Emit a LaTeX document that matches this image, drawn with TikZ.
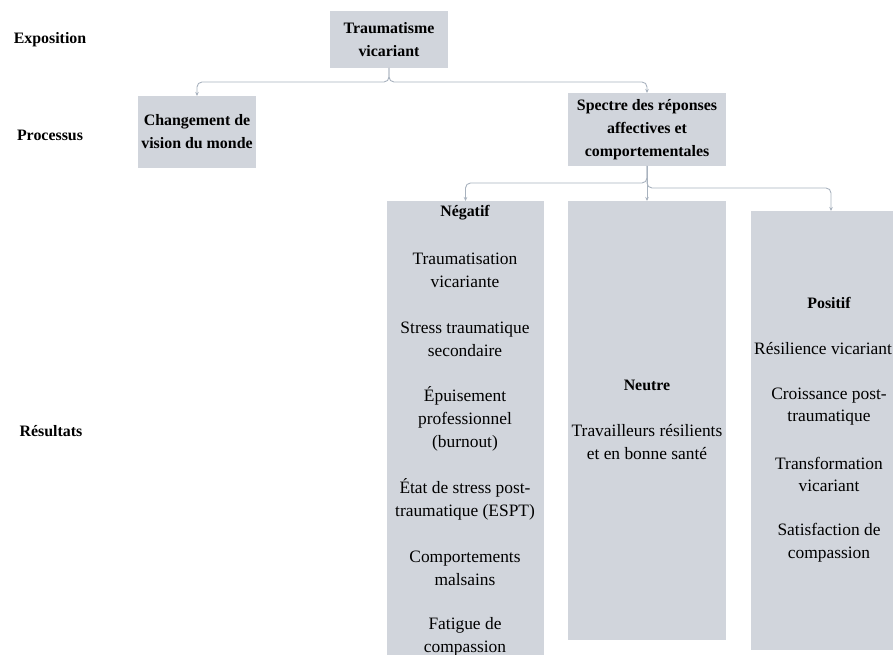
\documentclass[tikz,border=0pt]{standalone}
\usepackage{fontspec}
\setmainfont{Liberation Serif}
\usetikzlibrary{arrows.meta}
\definecolor{boxfill}{RGB}{209,213,220}
\definecolor{connc}{RGB}{168,178,190}
\tikzset{
  box/.style={fill=boxfill, draw=none, inner sep=0pt, outer sep=0pt, anchor=north west},
  hd/.style={font=\fontsize{15.9}{23}\selectfont\bfseries, align=center, inner sep=0pt},
  item/.style={font=\fontsize{17.4}{22.7}\selectfont, align=center, inner sep=0pt},
  conn/.style={draw=connc, line width=0.9pt, rounded corners=5pt, -{Stealth[length=4pt,width=3.5pt]}},
}
\begin{document}
\begin{tikzpicture}[x=1pt,y=-1pt]
\useasboundingbox (0,0) rectangle (893,655);
\clip (0,0) rectangle (893,655);
% left labels
\node[hd] (lexp) at (50,40) {Exposition};
\node[hd] (lpro) at (50,135) {Processus};
\node[hd] (lres) at (51,431) {Résultats};
% top boxes
\node[box, minimum width=118pt, minimum height=57pt] (trauma) at (330,11) {};
\node[hd] (traumat) at (trauma.center) {Traumatisme\\vicariant};
\node[box, minimum width=118pt, minimum height=72pt] (chg) at (138,96) {};
\node[hd] (chgt) at (chg.center) {Changement de\\vision du monde};
\node[box, minimum width=158pt, minimum height=73pt] (spec) at (568,93) {};
\node[hd] (spect) at (spec.center) {Spectre des réponses\\affectives et\\comportementales};
% result boxes
\node[box, minimum width=157pt, minimum height=470pt] (neg) at (387,201) {};
\node[box, minimum width=158pt, minimum height=439pt] (neu) at (568,201) {};
\node[box, minimum width=160pt, minimum height=439pt] (pos) at (751,211) {};
% negatif texts
\node[hd] (negh) at (465,213) {Négatif};
\node[item] (n1) at (465,270.5) {Traumatisation\\vicariante};
\node[item] (n2) at (465,339) {Stress traumatique\\secondaire};
\node[item] (n3) at (465,419) {Épuisement\\professionnel\\(burnout)};
\node[item] (n4) at (465,499.5) {État de stress post-\\traumatique (ESPT)};
\node[item] (n5) at (465,568) {Comportements\\malsains};
\node[item] (n6) at (465,636.5) {Fatigue de\\compassion};
% neutre texts
\node[hd] (neuh) at (647,385) {Neutre};
\node[item] (u1) at (647,442) {Travailleurs résilients\\et en bonne santé};
% positif texts
\node[hd] (posh) at (829,303) {Positif};
\node[item] (p1) at (823,349) {Résilience vicariant};
\node[item] (p2) at (829,406.5) {Croissance post-\\traumatique};
\node[item] (p3) at (829,474.5) {Transformation\\vicariant};
\node[item] (p4) at (829,543) {Satisfaction de\\compassion};
% connectors
\coordinate (h1) at (389,82);
\draw[conn] (trauma.south) -- (h1) -| (chg.north);
\draw[conn] (trauma.south) -- (h1) -| (spec.north);
\coordinate (h2) at (647,183);
\coordinate (h3) at (647,188);
\draw[conn] (spec.south) -- (h2) -| (neg.north);
\draw[conn] (spec.south) -- (neu.north);
\draw[conn] (spec.south) -- (h3) -| (pos.north);
\end{tikzpicture}
\end{document}
